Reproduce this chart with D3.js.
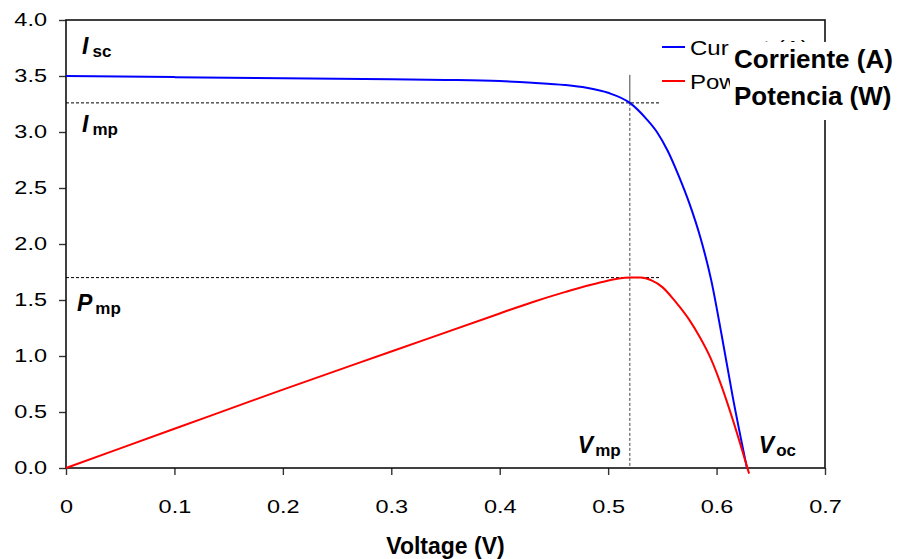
<!DOCTYPE html>
<html><head><meta charset="utf-8">
<script src="https://cdn.jsdelivr.net/npm/d3@7"></script>
<style>
body{margin:0;background:#fff}
svg{display:block}
text{font-family:"Liberation Sans",Arial,Helvetica,sans-serif;fill:#000}
</style>
</head><body>
<svg id="chart" width="897" height="559"></svg>
<script>
// ---- data ----
const currentV = [0, 0.05, 0.1, 0.15, 0.2, 0.25, 0.3, 0.35, 0.4, 0.43, 0.46, 0.48, 0.5, 0.52, 0.535, 0.545, 0.555, 0.565, 0.575, 0.585, 0.595, 0.605, 0.615, 0.628];
const currentA = [3.5, 3.495, 3.49, 3.485, 3.48, 3.475, 3.47, 3.465, 3.455, 3.44, 3.42, 3.395, 3.35, 3.26, 3.12, 3.0, 2.83, 2.61, 2.36, 2.06, 1.68, 1.17, 0.63, 0.0];
const powerV = [0, 0.1, 0.2, 0.3, 0.4, 0.43, 0.46, 0.49, 0.52, 0.53, 0.54, 0.55, 0.56, 0.565, 0.575, 0.585, 0.595, 0.605, 0.615, 0.63];
const powerW = [0, 0.35, 0.70, 1.04, 1.38, 1.48, 1.57, 1.65, 1.70, 1.70, 1.675, 1.615, 1.51, 1.45, 1.32, 1.16, 0.97, 0.72, 0.43, -0.05];
const xTicks = [0, 0.1, 0.2, 0.3, 0.4, 0.5, 0.6, 0.7];
const xTickLabels = ["0", "0.1", "0.2", "0.3", "0.4", "0.5", "0.6", "0.7"];
const yTicks = [0, 0.5, 1.0, 1.5, 2.0, 2.5, 3.0, 3.5, 4.0];
const yTickLabels = ["0.0", "0.5", "1.0", "1.5", "2.0", "2.5", "3.0", "3.5", "4.0"];
const seriesNames = ["Current (A)", "Power (W)"];
const seriesNamesEs = ["Corriente (A)", "Potencia (W)"];
const seriesColors = ["#0000ff", "#ff0000"];
const xTitle = "Voltage (V)";
const vmp = 0.52, imp = 3.26, pmp = 1.70, isc = 3.5;
const annoMain = ["I", "I", "P", "V", "V"];
const annoSub = ["sc", "mp", "mp", "mp", "oc"];

// ---- layout ----
const W = 897, H = 559;
const m = {left: 66, right: 72, top: 20, bottom: 91};
const svg = d3.select("#chart");
const x = d3.scaleLinear().domain([0, 0.7]).range([m.left, W - m.right]);
const y = d3.scaleLinear().domain([0, 4]).range([H - m.bottom, m.top]);
const SX = 1.27; // horizontal stretch of original chart text

// axes
const yAxis = svg.append("g").attr("transform", `translate(${m.left},0)`)
  .call(d3.axisLeft(y).tickValues(yTicks).tickFormat((d, i) => yTickLabels[i]).tickSize(7).tickPadding(12));
const xAxis = svg.append("g").attr("transform", `translate(0,${y(0)})`)
  .call(d3.axisBottom(x).tickValues(xTicks).tickFormat((d, i) => xTickLabels[i]).tickSize(7));
[yAxis, xAxis].forEach(g => {
  g.select(".domain").remove();
  g.selectAll(".tick line").attr("stroke", "#333").attr("stroke-width", 1.4);
  g.selectAll(".tick text").style("font-size", "18.5px").attr("fill", "#000");
});
yAxis.selectAll(".tick text").attr("x", -19 / SX).attr("transform", `scale(${SX},1)`);
xAxis.selectAll(".tick text").attr("y", 45).attr("dy", 0).attr("transform", `scale(${SX},1)`);

// frame
svg.append("rect").attr("x", x(0)).attr("y", y(4)).attr("width", x(0.7) - x(0)).attr("height", y(0) - y(4))
  .attr("fill", "none").attr("stroke", "#111").attr("stroke-width", 1.6);

// reference lines
svg.append("line").attr("x1", x(0)).attr("x2", x(0.548)).attr("y1", y(imp)).attr("y2", y(imp))
  .attr("stroke", "#000").attr("stroke-width", 1).attr("stroke-dasharray", "3,2");
svg.append("line").attr("x1", x(0)).attr("x2", x(0.548)).attr("y1", y(pmp)).attr("y2", y(pmp))
  .attr("stroke", "#000").attr("stroke-width", 1).attr("stroke-dasharray", "3,2");
svg.append("line").attr("x1", x(vmp)).attr("x2", x(vmp)).attr("y1", y(3.51)).attr("y2", y(imp))
  .attr("stroke", "#444").attr("stroke-width", 1);
svg.append("line").attr("x1", x(vmp)).attr("x2", x(vmp)).attr("y1", y(imp)).attr("y2", y(0))
  .attr("stroke", "#444").attr("stroke-width", 1).attr("stroke-dasharray", "3,2");

// curves
const line = d3.line().x(d => x(d[0])).y(d => y(d[1])).curve(d3.curveMonotoneX);
svg.append("path").datum(currentV.map((v, i) => [v, currentA[i]]))
  .attr("d", line).attr("fill", "none").attr("stroke", seriesColors[0]).attr("stroke-width", 2);
svg.append("path").datum(powerV.map((v, i) => [v, powerW[i]]))
  .attr("d", line).attr("fill", "none").attr("stroke", seriesColors[1]).attr("stroke-width", 2);

// annotations
const annoPos = [[0.0148, 3.70, 4], [0.0148, 3.0, 4], [0.0101, 1.405, 3], [0.472, 0.134, 2], [0.639, 0.134, 2]];
annoMain.forEach((t, i) => {
  const [av, ay, dx] = annoPos[i];
  const tx = svg.append("text").attr("x", x(av)).attr("y", y(ay)).style("font-weight", "bold");
  tx.append("tspan").text(t).style("font-style", "italic").style("font-size", "23px");
  tx.append("tspan").text(annoSub[i]).style("font-size", "17px").attr("dx", dx).attr("dy", 3);
});

// legend (original English)
const lg = svg.append("g");
seriesNames.forEach((n, i) => {
  const ly = 47 + i * 34;
  lg.append("line").attr("x1", 662).attr("x2", 685).attr("y1", ly).attr("y2", ly)
    .attr("stroke", seriesColors[i]).attr("stroke-width", 2);
  lg.append("text").text(n).style("font-size", "20px")
    .attr("transform", `translate(690,${ly + 8}) scale(1.2,1)`);
});
// overlay with Spanish labels
svg.append("rect").attr("x", 730).attr("y", 42).attr("width", 167).attr("height", 78).attr("fill", "#fff");
seriesNamesEs.forEach((n, i) => {
  svg.append("text").text(n).attr("x", 734).attr("y", 68 + i * 37)
    .style("font-size", "26px").style("font-weight", "bold");
});

// x title
svg.append("text").text(xTitle).attr("x", (x(0) + x(0.7)) / 2).attr("y", 554)
  .attr("text-anchor", "middle").style("font-size", "23px").style("font-weight", "bold");
</script>
</body></html>
